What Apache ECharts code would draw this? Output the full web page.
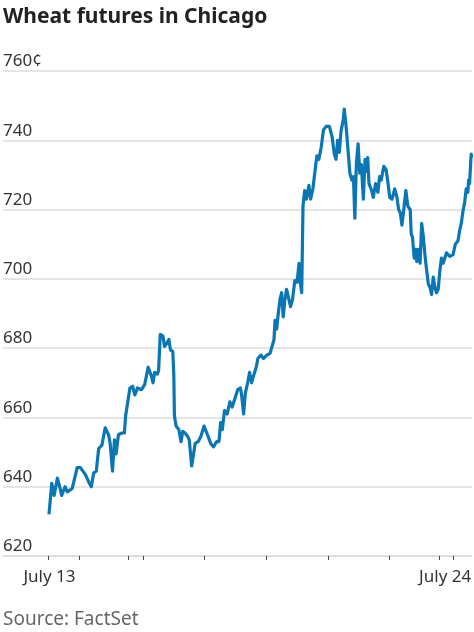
<!DOCTYPE html>
<html>
<head>
<meta charset="utf-8">
<title>Wheat futures in Chicago</title>
<script src="https://cdn.jsdelivr.net/npm/echarts@6/dist/echarts.min.js"></script>
<style>
    html, body { margin: 0; padding: 0; background: #fff; }
    #wheatFutures { width: 474px; height: 632px; }
</style>
</head>
<body>
<div id="wheatFutures"></div>
<script>
    // trading time since the July 13 open (axis units), and the price in cents
    const sessionTime = [
        0.5, 3.3, 5.7, 9, 11.3, 13.3, 16.7, 19, 24, 29,
        32.3, 37.3, 41.3, 43.3, 45.7, 48.3, 50.7, 54, 57.3, 60.7,
        62.3, 64.7, 66.7, 68.3, 70.7, 74, 76.7, 78, 80, 82.3,
        85, 87.3, 90, 94, 97.3, 100.7, 104, 105.7, 107.3, 110,
        111.3, 113, 115.7, 117.3, 119.7, 121.7, 123.3, 125.7, 126.7, 127.3,
        129, 131.7, 134, 135.7, 138, 140.7, 142.3, 144.7, 146.7, 148.3,
        151.3, 154, 157.3, 160.7, 164, 166.7, 170, 172.3, 174, 175.7,
        178, 180.7, 183.3, 185.7, 187.3, 191.3, 194, 195, 196.3, 197.3,
        199, 201.3, 203.3, 205.3, 207.3, 210, 211.7, 214.7, 217.3, 220.7,
        224, 228, 229, 230.7, 232.3, 234, 235.7, 237.3, 239, 240.7,
        242.3, 244.7, 246.7, 249, 251.3, 253.3, 254.7, 256, 257.3, 259,
        260.7, 263.3, 265, 267.3, 270, 271.3, 273.3, 275.7, 278, 280.7,
        284, 286.7, 289, 290.7, 292.3, 294, 295.7, 298, 299, 300.7,
        302.3, 304.7, 306.7, 308.3, 309.7, 311.3, 313, 314.7, 316.3, 318.3,
        320, 321.3, 322.7, 324, 326.7, 328.3, 330.7, 333, 334.7, 336.3,
        339, 341.3, 343.3, 345, 347.3, 350, 352.3, 354, 355.7, 357.3,
        359, 361.3, 363.3, 365.7, 366.7, 368, 369.7, 371.3, 372.3, 374,
        375.7, 377.3, 379, 380.7, 382.3, 384, 385.7, 387.3, 389, 390.7,
        392.3, 394, 395.7, 397.3, 399, 400.7, 402.3, 404, 405.7, 409,
        411.3, 414, 415.7, 417.3, 419, 420.7, 422.3, 424, 424.7, 425.7,
        427.3, 428
    ]
    const priceCents = [
        632, 641, 637.5, 642.5, 640, 637.5, 640, 638.5, 639.5, 645.5,
        645.5, 643.5, 641, 640, 644, 644.5, 651, 652, 657, 655,
        652.5, 644.5, 653.5, 649.5, 655, 655.5, 655.5, 660.5, 661, 668.5,
        669, 666.5, 668.5, 668, 669.5, 674.5, 672, 670, 673, 672.5,
        673.5, 684, 683.5, 680.5, 681.5, 682.5, 679.5, 679, 672, 660.5,
        657.5, 656.5, 653, 656, 655.5, 654.5, 653.5, 646, 649.5, 652.5,
        653, 654.5, 657.5, 655, 652.5, 651.5, 653, 653, 658.5, 656.5,
        662, 661, 664.5, 663, 662.5, 668, 668.5, 667, 667.5, 661,
        667, 670, 673, 670, 672, 674.5, 677, 678, 677, 678,
        678.5, 682.5, 688, 685.5, 690, 694, 696, 689, 694, 697,
        695, 692, 694, 699.5, 699, 704.5, 698.5, 696, 721, 725.5,
        723, 727, 723, 726, 732.5, 735.5, 734.5, 738, 743, 744,
        744, 741, 736, 734.5, 740, 736.5, 742.5, 746, 749, 744.5,
        739, 730.5, 728.5, 729.5, 717.5, 733.5, 739, 730.5, 733, 723,
        734.5, 731, 735, 727.5, 725.5, 723.5, 727.5, 725, 729.5, 728.5,
        732.5, 731.5, 727.5, 723.5, 723, 726, 723.5, 720, 719, 715.5,
        719.5, 725.5, 721, 720, 713, 712, 706, 708.5, 705, 708.5,
        704.5, 716, 712, 706.5, 702.5, 698.5, 697.5, 695.5, 700.5, 697.5,
        696, 697, 702.5, 706, 704.5, 706, 707.5, 708, 706.5, 707,
        710, 711, 714, 716, 719.5, 722, 726, 725, 728.5, 727.5,
        736, 735
    ]
    // x axis: tick marks at day breaks, and the two date labels
    const dayTicks = [0, 31, 81, 96, 157, 220, 283, 345, 395, 409]
    const labelTimes = [1, 401]
    const tickLabels = ['July 13', 'July 24']
    // y axis
    const yMin = 620
    const yMax = 760
    const yStep = 20

    const chartData = sessionTime.map((t, i) => [t, priceCents[i]])

    const wheatChart = echarts.init(document.getElementById('wheatFutures'))
    const option = {
        animation: false,
        textStyle: {
            fontFamily: 'Noto Sans'
        },
        title: [
            {
                text: 'Wheat futures in Chicago',
                left: -2,
                top: 2,
                textStyle: {
                    fontSize: 21,
                    fontWeight: 'bold',
                    color: '#222'
                }
            },
            {
                text: 'Source: FactSet',
                left: -2,
                bottom: -2,
                textStyle: {
                    fontSize: 19,
                    fontWeight: 'normal',
                    color: '#666'
                }
            }
        ],
        grid: {
            left: 0,
            right: 0,
            top: 71,
            bottom: 76
        },
        xAxis: {
            type: 'value',
            min: -46,
            max: 428,
            splitLine: { show: false },
            axisLine: {
                show: true,
                lineStyle: { color: '#ddd', width: 1.5 }
            },
            axisTick: {
                show: true,
                length: 4,
                customValues: dayTicks,
                lineStyle: { color: '#444', width: 1 }
            },
            axisLabel: {
                customValues: labelTimes,
                margin: 13,
                fontSize: 17,
                color: '#333',
                formatter: function (value) {
                    return tickLabels[labelTimes.indexOf(value)]
                }
            }
        },
        yAxis: {
            type: 'value',
            min: yMin,
            max: yMax,
            interval: yStep,
            axisLine: { show: false },
            axisTick: { show: false },
            splitLine: {
                lineStyle: { color: '#ddd', width: 1.5 }
            },
            axisLabel: {
                inside: true,
                margin: 0,
                verticalAlign: 'bottom',
                padding: [0, 0, 1, 0],
                fontSize: 17,
                color: '#333',
                formatter: function (value) {
                    return value === yMax ? value + '¢' : String(value)
                }
            }
        },
        series: [
            {
                name: 'Wheat',
                type: 'line',
                data: chartData,
                showSymbol: false,
                lineStyle: {
                    color: '#0a76b4',
                    width: 3.2,
                    join: 'round'
                },
                z: 5
            }
        ]
    }
    wheatChart.setOption(option)
    window.addEventListener('resize', () => wheatChart.resize())
</script>
</body>
</html>
